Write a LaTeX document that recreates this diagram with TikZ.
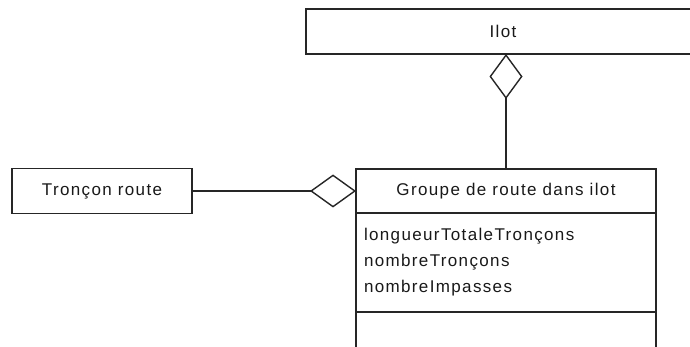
\documentclass[tikz,border=0pt]{standalone}
\usepackage{fontspec}
\usepackage{tikz}
\usetikzlibrary{arrows.meta, positioning}
\newfontfamily\umlfont{Liberation Sans}[LetterSpace=8]

\begin{document}
\begin{tikzpicture}[
  x=1pt, y=-1pt,
  node distance=0pt,
  box/.style={rectangle, draw=black!85, line width=1.4pt, outer sep=0pt, inner sep=0pt, font=\umlfont\fontsize{17}{26}\selectfont, text=black!90},
  classbox/.style={box, minimum width=300pt},
  aggr/.style={draw=black!85, line width=1.4pt},
]

\clip (0,0) rectangle (690,347);
\fill[white] (0,0) rectangle (690,347);

% class with its three compartments
\node[classbox, minimum height=44pt, anchor=north west] (groupe) at (356,169) {Groupe de route dans ilot};
\node[classbox, minimum height=99pt, below=of groupe, align=left, text width=284pt] (attrs) {longueurTotaleTronçons\\nombreTronçons\\nombreImpasses};
\node[classbox, minimum height=50pt, below=of attrs] (methods) {};

\node[box, minimum width=180pt, minimum height=45pt, left=164pt of groupe] (troncon) {Tronçon route};
\node[box, minimum width=400pt, minimum height=45pt, above=115pt of groupe, text depth=0pt] (ilot) {Ilot\hspace*{6pt}};

\draw[aggr, {Diamond[open, length=45pt, width=33pt]}-] (ilot.south) -- (ilot.south |- groupe.north);
\draw[aggr, -{Diamond[open, length=46pt, width=33pt]}] (troncon) -- (groupe);

\end{tikzpicture}
\end{document}
